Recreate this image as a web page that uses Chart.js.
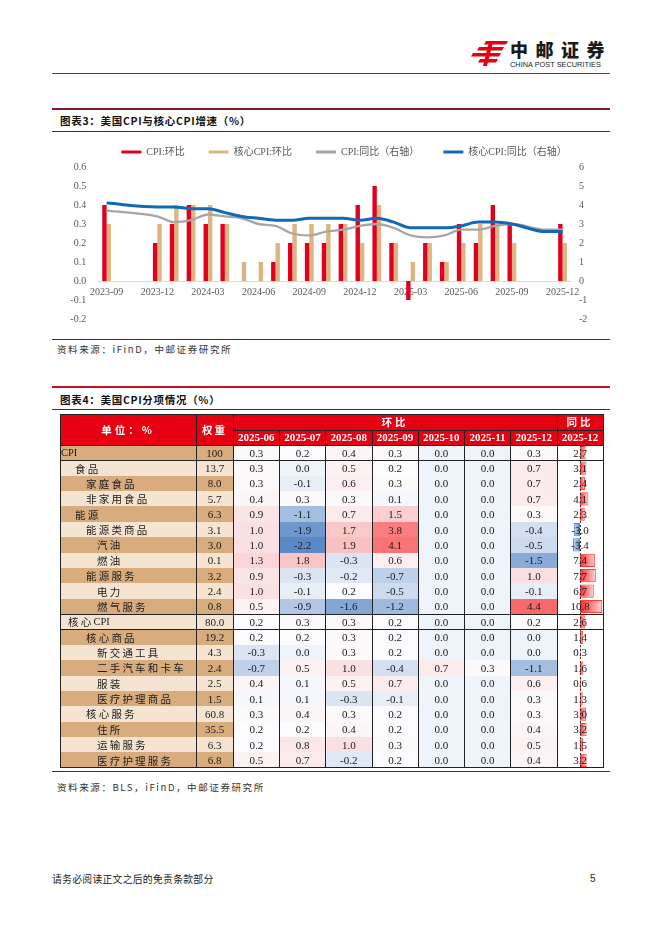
<!DOCTYPE html>
<html><head><meta charset="utf-8">
<script src="https://cdn.jsdelivr.net/npm/chart.js@4.4.1/dist/chart.umd.min.js"></script>
<style>
html,body{margin:0;padding:0;background:#fff;}
body{width:662px;height:936px;position:relative;overflow:hidden;font-family:"Liberation Serif","Noto Sans CJK SC",serif;color:#1a1a1a;}
.a{position:absolute;}
.ln{position:absolute;}
.ttl{position:absolute;font-family:"Noto Sans CJK SC",sans-serif;font-weight:700;font-size:10.5px;letter-spacing:0.7px;color:#111;line-height:12px;}
.src{position:absolute;font-family:"Noto Sans CJK SC",sans-serif;font-size:9.5px;letter-spacing:1.6px;color:#333;line-height:12px;}
.cell{position:absolute;display:flex;align-items:center;justify-content:center;font-size:11px;box-sizing:border-box;white-space:nowrap;}
.cj{letter-spacing:2.2px;}
</style></head><body>

<!-- header -->
<svg class="a" style="left:471px;top:41px" width="38" height="25" viewBox="0 0 38 25">
  <g fill="#E60012">
    <polygon points="15,0 37,0 35,3.5 13,3.5"/>
    <polygon points="8,6 33,6 31,9.5 6,9.5"/>
    <polygon points="2,12 30,12 28,15.5 0,15.5"/>
    <polygon points="9,18 27,18 25,21.5 7,21.5"/>
    <polygon points="18,1 22,1 16,25 12,25"/>
  </g>
</svg>
<div class="a" style="left:510px;top:39px;font-family:'Noto Sans CJK SC',sans-serif;font-weight:900;font-size:18px;letter-spacing:7.5px;color:#1b1b1b;line-height:20px;">中邮证券</div>
<div class="a" style="left:510px;top:61px;font-family:'Liberation Sans',Arial,sans-serif;font-size:7.3px;color:#222;line-height:8px;letter-spacing:0.05px;">CHINA POST SECURITIES</div>
<div class="ln" style="left:52px;top:73px;width:558px;height:1px;background:#444;"></div>

<!-- chart 3 title -->
<div class="ln" style="left:52px;top:108px;width:558px;height:1.5px;background:#7d1a2a;"></div>
<div class="ttl" style="left:60px;top:115px;">图表3：美国CPI与核心CPI增速（%）</div>
<div class="ln" style="left:52px;top:131px;width:558px;height:1px;background:#7d1a2a;"></div>

<canvas id="c1" class="a" style="left:52px;top:123px" width="584" height="214"></canvas>

<div class="ln" style="left:52px;top:339px;width:558px;height:1px;background:#7d1a2a;"></div>
<div class="src" style="left:57px;top:343px;">资料来源：iFinD，中邮证券研究所</div>

<!-- chart 4 title -->
<div class="ln" style="left:52px;top:386px;width:558px;height:2px;background:#c0101a;"></div>
<div class="ttl" style="left:60px;top:394px;">图表4：美国CPI分项情况（%）</div>
<div class="ln" style="left:52px;top:409px;width:558px;height:1px;background:#7d1a2a;"></div>

<div id="tbl"></div>
<canvas id="c2" class="a" style="left:557px;top:445px;z-index:1" width="46" height="323"></canvas>
<div id="tbltxt"></div>

<div class="ln" style="left:52px;top:771px;width:558px;height:1px;background:#7d1a2a;"></div>
<div class="src" style="left:57px;top:781px;">资料来源：BLS，iFinD，中邮证券研究所</div>

<div class="a" style="left:52px;top:873px;font-family:'Noto Sans CJK SC',sans-serif;font-size:9.8px;letter-spacing:0.3px;color:#222;line-height:12px;">请务必阅读正文之后的免责条款部分</div>
<div class="a" style="left:590px;top:873px;font-family:'Liberation Sans',sans-serif;font-size:10px;color:#222;line-height:12px;">5</div>

<script>
// ---------------- Chart data (图表3) ----------------
const months = ['2023-09','2023-10','2023-11','2023-12','2024-01','2024-02','2024-03','2024-04','2024-05','2024-06','2024-07','2024-08','2024-09','2024-10','2024-11','2024-12','2025-01','2025-02','2025-03','2025-04','2025-05','2025-06','2025-07','2025-08','2025-09','2025-10','2025-11','2025-12'];
const xTickLabels = ['2023-09','2023-12','2024-03','2024-06','2024-09','2024-12','2025-03','2025-06','2025-09','2025-12'];
const cpiMoM  = [0.4,null,null,0.2,0.3,0.4,0.3,0.3,0.0,0.0,0.1,0.2,0.2,0.2,0.3,0.4,0.5,0.2,-0.1,0.2,0.1,0.3,0.2,0.4,0.3,null,null,0.3];
const coreMoM = [0.3,null,null,0.3,0.4,0.4,0.4,0.3,0.1,0.1,0.2,0.3,0.3,0.3,0.3,0.2,0.4,0.2,0.1,0.2,0.1,0.2,0.3,0.3,0.2,null,null,0.2];
const cpiYoY  = [3.7,null,null,3.4,3.1,3.2,3.5,3.4,3.3,3.0,2.9,2.5,2.4,2.6,2.7,2.9,3.0,2.8,2.4,2.3,2.4,2.7,2.7,2.9,3.0,null,2.7,2.7];
const coreYoY = [4.1,null,null,3.9,3.9,3.8,3.8,3.6,3.4,3.3,3.2,3.2,3.3,3.3,3.3,3.2,3.3,3.1,2.8,2.8,2.8,2.9,3.1,3.1,3.0,null,2.6,2.6];
const seriesNames = ['CPI:环比','核心CPI:环比','CPI:同比（右轴）','核心CPI:同比（右轴）'];

// ---------------- Table data (图表4) ----------------
const itemNames = ['CPI','食品','家庭食品','非家用食品','能源','能源类商品','汽油','燃油','能源服务','电力','燃气服务','核心CPI','核心商品','新交通工具','二手汽车和卡车','服装','医疗护理商品','核心服务','住所','运输服务','医疗护理服务'];
const itemLevels = [0,2,3,3,2,3,4,4,3,4,4,1,3,4,4,4,4,3,4,4,4];
const weights = ['100','13.7','8.0','5.7','6.3','3.1','3.0','0.1','3.2','2.4','0.8','80.0','19.2','4.3','2.4','2.5','1.5','60.8','35.5','6.3','6.8'];
const momMonths = ['2025-06','2025-07','2025-08','2025-09','2025-10','2025-11','2025-12'];
const mom_2025_06 = [0.3,0.3,0.3,0.4,0.9,1.0,1.0,1.3,0.9,1.0,0.5,0.2,0.2,-0.3,-0.7,0.4,0.1,0.3,0.2,0.2,0.5];
const mom_2025_07 = [0.2,0.0,-0.1,0.3,-1.1,-1.9,-2.2,1.8,-0.3,-0.1,-0.9,0.3,0.2,0.0,0.5,0.1,0.1,0.4,0.2,0.8,0.7];
const mom_2025_08 = [0.4,0.5,0.6,0.3,0.7,1.7,1.9,-0.3,-0.2,0.2,-1.6,0.3,0.3,0.3,1.0,0.5,-0.3,0.3,0.4,1.0,-0.2];
const mom_2025_09 = [0.3,0.2,0.3,0.1,1.5,3.8,4.1,0.6,-0.7,-0.5,-1.2,0.2,0.2,0.2,-0.4,0.7,-0.1,0.2,0.2,0.3,0.2];
const mom_2025_10 = [0.0,0.0,0.0,0.0,0.0,0.0,0.0,0.0,0.0,0.0,0.0,0.0,0.0,0.0,0.7,0.0,0.0,0.0,0.0,0.0,0.0];
const mom_2025_11 = [0.0,0.0,0.0,0.0,0.0,0.0,0.0,0.0,0.0,0.0,0.0,0.0,0.0,0.0,0.3,0.0,0.0,0.0,0.0,0.0,0.0];
const mom_2025_12 = [0.3,0.7,0.7,0.7,0.3,-0.4,-0.5,-1.5,1.0,-0.1,4.4,0.2,0.0,0.0,-1.1,0.6,0.3,0.3,0.4,0.5,0.4];
const yoy_2025_12 = [2.7,3.1,2.4,4.1,2.3,-3.0,-3.4,7.4,7.7,6.7,10.8,2.6,1.4,0.3,1.6,0.6,1.3,3.0,3.2,1.5,3.2];
const yoyMonth = '2025-12';

// ---------------- Chart 3 ----------------
Chart.defaults.font.family = "'Liberation Serif','Noto Sans CJK SC',serif";
Chart.defaults.color = '#595959';
const RED = '#E0001B', TAN = '#DDB482', GRAY = '#A6A6A6', BLUE = '#1169B5';
new Chart(document.getElementById('c1'), {
  type: 'bar',
  data: {
    labels: months,
    datasets: [
      {type:'bar', label: seriesNames[0], data: cpiMoM, backgroundColor: RED, yAxisID:'y', order:2, categoryPercentage:0.52, barPercentage:1, legendColor: RED},
      {type:'bar', label: seriesNames[1], data: coreMoM, backgroundColor: TAN, yAxisID:'y', order:3, categoryPercentage:0.52, barPercentage:1, legendColor: TAN},
      {type:'line', label: seriesNames[2], data: cpiYoY, borderColor: GRAY, backgroundColor: GRAY, borderWidth:2.3, pointRadius:0, cubicInterpolationMode:'monotone', spanGaps:true, yAxisID:'y1', order:1, legendColor: GRAY},
      {type:'line', label: seriesNames[3], data: coreYoY, borderColor: BLUE, backgroundColor: BLUE, borderWidth:3, pointRadius:0, cubicInterpolationMode:'monotone', spanGaps:true, yAxisID:'y1', order:0, legendColor: BLUE}
    ]
  },
  options: {
    responsive:false, animation:false, devicePixelRatio:1,
    layout:{padding:{left:0,right:0,top:0,bottom:6}},
    plugins:{
      tooltip:{enabled:false},
      legend:{
        display:true, position:'top',
        labels:{
          boxWidth:20, boxHeight:3, padding:24, color:'#595959', font:{size:10},
          sort:(a,b)=>a.datasetIndex-b.datasetIndex,
          generateLabels:(chart)=>chart.data.datasets.map((ds,i)=>({text:ds.label, fillStyle:ds.legendColor, strokeStyle:ds.legendColor, lineWidth:0, hidden:false, datasetIndex:i, fontColor:'#595959'}))
        }
      }
    },
    scales:{
      x:{
        type:'category', position:{y:0}, offset:true,
        grid:{display:false, drawTicks:false},
        border:{display:true, color:'#D9D9D9', width:1},
        ticks:{autoSkip:false, maxRotation:0, padding:5, font:{size:10}, color:'#595959',
          callback:function(v){ const l = this.getLabelForValue(v); return xTickLabels.includes(l) ? l : ''; }}
      },
      y:{
        position:'left', min:-0.2, max:0.6,
        grid:{display:false, drawTicks:false}, border:{display:false},
        ticks:{stepSize:0.1, padding:12, font:{size:10}, color:'#595959', callback:v=>Number(v).toFixed(1)},
        afterFit:s=>{s.width=46.2;}
      },
      y1:{
        position:'right', min:-2, max:6,
        grid:{display:false, drawTicks:false}, border:{display:false},
        ticks:{stepSize:1, padding:8, font:{size:10}, color:'#595959'},
        afterFit:s=>{s.width=65;}
      }
    }
  }
});

// ---------------- Table 4 ----------------
const colEdges = [60,196,233,279.5,325.5,372,418,464.5,510.5,557,603];
const headTop = 414, headMid = 429.5, headBot = 445, rowH = 15.37;
const tblBot = headBot + rowH*itemNames.length;
const tbl = document.getElementById('tbl');
const txt = document.getElementById('tbltxt');
function box(parent, l, t, w, h, html, style){
  const d = document.createElement('div');
  d.className = 'cell';
  d.style.left = l+'px'; d.style.top = t+'px'; d.style.width = w+'px'; d.style.height = h+'px';
  if (style) d.style.cssText += style;
  d.innerHTML = html;
  parent.appendChild(d);
  return d;
}
function line(l,t,w,h,c){
  const d = document.createElement('div');
  d.className='ln'; d.style.cssText += `left:${l}px;top:${t}px;width:${w}px;height:${h}px;background:${c};z-index:3;`;
  tbl.appendChild(d);
}
function spaced(s){ return s.replace(/([\u4e00-\u9fff]+)/g,'<span class="cj">$1</span>'); }
const HRED = '#E60012';
const HF = 'z-index:4;font-family:"Noto Sans CJK SC";font-weight:700;font-size:10.5px;color:#fff;';
box(tbl, colEdges[0], headTop, colEdges[10]-colEdges[0], headBot-headTop, '', 'background:'+HRED);
box(txt, colEdges[0], headTop, colEdges[1]-colEdges[0], headBot-headTop, '单位：%', HF+'letter-spacing:3px;');
box(txt, colEdges[1], headTop, colEdges[2]-colEdges[1], headBot-headTop, '权重', HF+'letter-spacing:2px;');
box(txt, colEdges[2], headTop, colEdges[9]-colEdges[2], headMid-headTop, '环比', HF+'letter-spacing:3px;');
box(txt, colEdges[9], headTop, colEdges[10]-colEdges[9], headMid-headTop, '同比', HF+'letter-spacing:3px;');
const headDates = momMonths.concat([yoyMonth]);
headDates.forEach((m,j)=>{
  box(txt, colEdges[j+2], headMid, colEdges[j+3]-colEdges[j+2], headBot-headMid, m, 'z-index:4;font-weight:700;font-size:11px;color:#fff;');
});

// heat-map colours (Excel 3-colour scale, computed from the data)
const momCols = [mom_2025_06,mom_2025_07,mom_2025_08,mom_2025_09,mom_2025_10,mom_2025_11,mom_2025_12];
const allVals = [].concat(...momCols).slice().sort((a,b)=>a-b);
const vMin = allVals[0], vMax = allVals[allVals.length-1];
const rk = 0.5*(allVals.length-1);
const vMid = allVals[Math.floor(rk)] + (allVals[Math.ceil(rk)]-allVals[Math.floor(rk)])*(rk-Math.floor(rk));
const cLow=[90,138,198], cMid=[252,252,255], cHigh=[248,105,107];
function mix(a,b,t){return 'rgb('+a.map((x,i)=>Math.round(x+(b[i]-x)*t)).join(',')+')';}
function heat(v){
  if (v<=vMid) return mix(cLow,cMid,(v-vMin)/(vMid-vMin||1));
  return mix(cMid,cHigh,(v-vMid)/(vMax-vMid||1));
}
const DARK='#D8AC7C', LIGHT='#F6E4D2';
const indent = [1,8,15,26,37];
itemNames.forEach((name,i)=>{
  const top = headBot + i*rowH;
  const bg = i%2===0 ? DARK : LIGHT;
  box(tbl, colEdges[0], top, colEdges[2]-colEdges[0], rowH, '', 'background:'+bg);
  box(txt, colEdges[0]+indent[itemLevels[i]], top, colEdges[1]-colEdges[0]-indent[itemLevels[i]], rowH, spaced(name),
    'z-index:4;justify-content:flex-start;font-size:10.5px;');
  box(txt, colEdges[1], top, colEdges[2]-colEdges[1], rowH, weights[i], 'z-index:4;');
  momCols.forEach((col,j)=>{
    box(tbl, colEdges[j+2], top, colEdges[j+3]-colEdges[j+2], rowH, '', 'background:'+heat(col[i]));
    box(txt, colEdges[j+2], top, colEdges[j+3]-colEdges[j+2], rowH, col[i].toFixed(1), 'z-index:4;');
  });
  box(txt, colEdges[9], top, colEdges[10]-colEdges[9], rowH, yoy_2025_12[i].toFixed(1), 'z-index:4;');
});
// borders
const BC = '#222';
line(colEdges[0]-0.5, headTop, colEdges[10]-colEdges[0]+1, 1, BC);
line(colEdges[2], headMid, colEdges[10]-colEdges[2], 1, BC);
line(colEdges[0]-0.5, headBot-0.5, colEdges[10]-colEdges[0]+1, 1, BC);
line(colEdges[0]-0.5, headBot+rowH-0.5, colEdges[10]-colEdges[0]+1, 1, BC);
line(colEdges[0]-0.5, headBot+11*rowH-0.5, colEdges[10]-colEdges[0]+1, 1, BC);
line(colEdges[0]-0.5, headBot+12*rowH-0.5, colEdges[10]-colEdges[0]+1, 1, BC);
line(colEdges[0]-0.5, tblBot-0.5, colEdges[10]-colEdges[0]+1, 1.2, BC);
colEdges.forEach((x,k)=>{
  const t = (k>=3 && k<=8) ? headMid : headTop;
  line(x-0.5, t, 1, tblBot-t, BC);
});

// yoy data bars, drawn with Chart.js
const axisLine = {
  id:'axisLine',
  afterDatasetsDraw(chart){
    const x = chart.scales.x.getPixelForValue(0), ctx = chart.ctx;
    ctx.save(); ctx.strokeStyle='#333'; ctx.lineWidth=1; ctx.setLineDash([2,2]);
    ctx.beginPath(); ctx.moveTo(Math.round(x)+0.5, 0); ctx.lineTo(Math.round(x)+0.5, chart.height); ctx.stroke(); ctx.restore();
  }
};
new Chart(document.getElementById('c2'), {
  type:'bar',
  data:{labels:itemNames, datasets:[{
    data: yoy_2025_12,
    backgroundColor:(c)=>{
      const ch=c.chart, area=ch.chartArea; if(!area) return '#f66';
      const v = c.raw, x0 = ch.scales.x.getPixelForValue(0), x1 = ch.scales.x.getPixelForValue(v);
      const g = ch.ctx.createLinearGradient(x0,0,x1===x0?x0+1:x1,0);
      if (v>=0){ g.addColorStop(0,'rgba(255,40,40,1)'); g.addColorStop(1,'rgba(255,215,215,1)'); }
      else { g.addColorStop(0,'rgba(80,130,200,1)'); g.addColorStop(1,'rgba(215,228,245,1)'); }
      return g;
    },
    borderColor:(c)=> c.raw>=0 ? '#FF3B3B' : '#5A8AC6',
    borderWidth:1, borderSkipped:false,
    categoryPercentage:0.86, barPercentage:1
  }]},
  options:{
    indexAxis:'y', responsive:false, animation:false, devicePixelRatio:1,
    layout:{padding:0},
    plugins:{legend:{display:false}, tooltip:{enabled:false}},
    scales:{
      x:{min:-11.2, max:11.2, display:false},
      y:{display:false, offset:true}
    }
  },
  plugins:[axisLine]
});
</script>
</body></html>
